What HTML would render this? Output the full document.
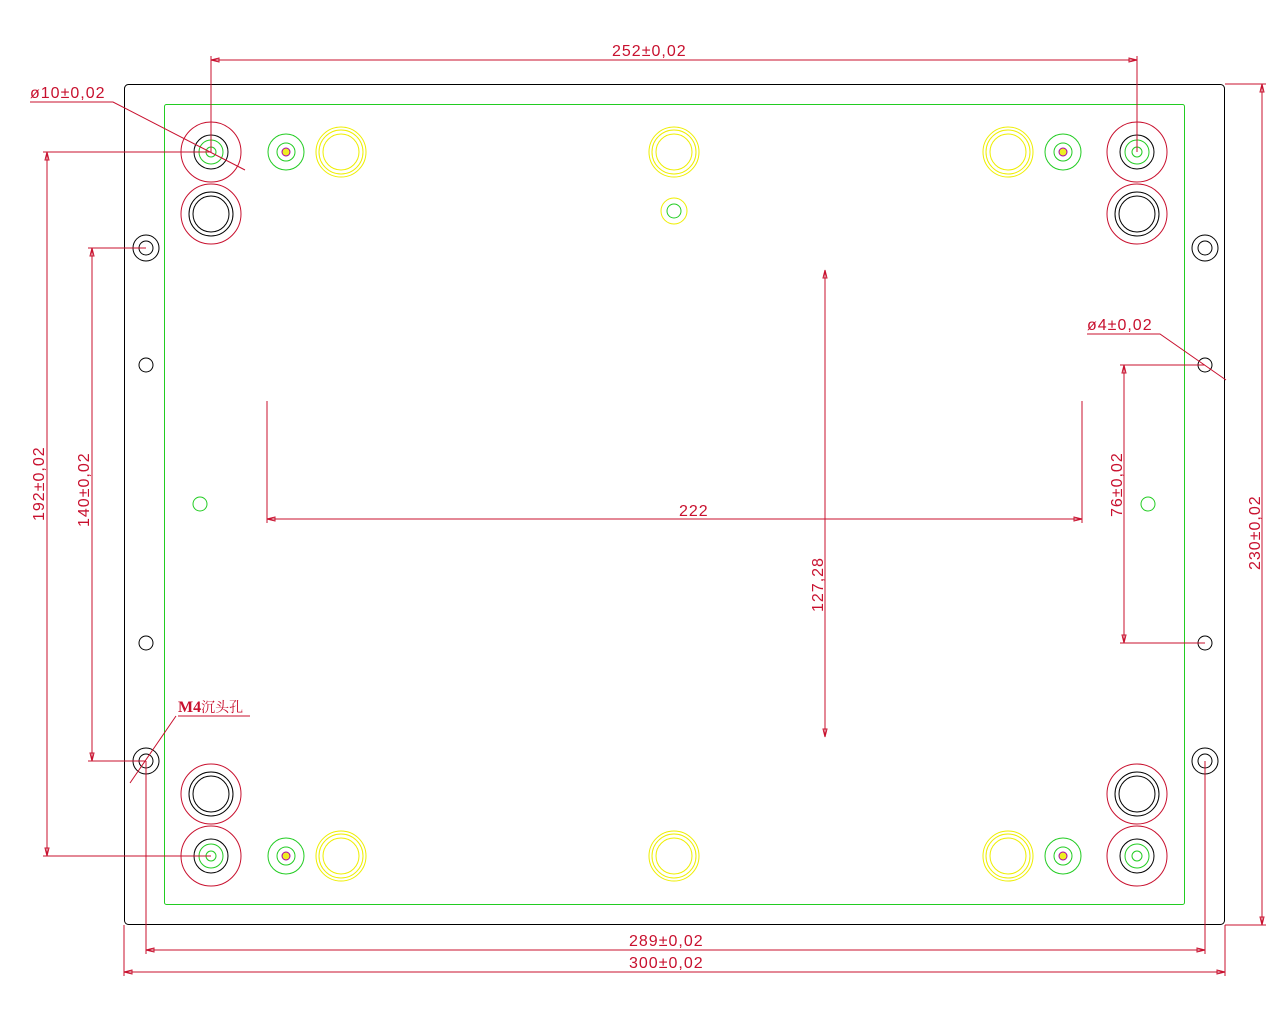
<!DOCTYPE html>
<html><head><meta charset="utf-8"><style>
html,body{margin:0;padding:0;background:#fff;}
svg{display:block;}
text{font-family:"Liberation Sans","Noto Sans CJK SC",sans-serif;font-size:16px;letter-spacing:1px;fill:#c8102e;}
</style></head><body>
<svg width="1280" height="1024" viewBox="0 0 1280 1024" xmlns="http://www.w3.org/2000/svg">
<defs>
<g id="mh"><circle r="30" fill="none" stroke="#c8102e"/><circle r="17" fill="none" stroke="#000"/><circle r="12" fill="none" stroke="#2c2"/><circle r="5" fill="none" stroke="#2c2"/></g>
<g id="bh"><circle r="30" fill="none" stroke="#c8102e"/><circle r="22" fill="none" stroke="#000"/><circle r="18" fill="none" stroke="#000"/></g>
<g id="gh"><circle r="18" fill="none" stroke="#2c2"/><circle r="9" fill="none" stroke="#2c2"/><circle r="4" fill="#ee2" stroke="#a0a"/></g>
<g id="yh"><circle r="25" fill="none" stroke="#ee0"/><circle r="22" fill="none" stroke="#ee0"/><circle r="18" fill="none" stroke="#ee0"/></g>
<g id="lh"><circle r="13" fill="none" stroke="#000"/><circle r="7" fill="none" stroke="#000"/></g>
<g id="sh"><circle r="7" fill="none" stroke="#000"/></g>
</defs>
<rect x="124.5" y="84.5" width="1100" height="840" rx="4" fill="none" stroke="#000"/>
<rect x="164.5" y="104.5" width="1020" height="800" rx="2" fill="none" stroke="#2c2"/>

<use href="#mh" x="211" y="152"/><use href="#mh" x="1137" y="152"/>
<use href="#mh" x="211" y="856"/><use href="#mh" x="1137" y="856"/>
<use href="#bh" x="211" y="214"/><use href="#bh" x="1137" y="214"/>
<use href="#bh" x="211" y="794"/><use href="#bh" x="1137" y="794"/>
<use href="#gh" x="286" y="152"/><use href="#gh" x="1063" y="152"/>
<use href="#gh" x="286" y="856"/><use href="#gh" x="1063" y="856"/>
<use href="#yh" x="341" y="152"/><use href="#yh" x="674" y="152"/><use href="#yh" x="1008" y="152"/>
<use href="#yh" x="341" y="856"/><use href="#yh" x="674" y="856"/><use href="#yh" x="1008" y="856"/>
<circle cx="674" cy="211" r="13" fill="none" stroke="#ee0"/><circle cx="674" cy="211" r="7" fill="none" stroke="#2c2"/>
<use href="#lh" x="146" y="248"/><use href="#lh" x="146" y="761"/><use href="#lh" x="1205" y="248"/><use href="#lh" x="1205" y="761"/>
<use href="#sh" x="146" y="365"/><use href="#sh" x="146" y="643"/><use href="#sh" x="1205" y="365"/><use href="#sh" x="1205" y="643"/>
<circle cx="200" cy="504" r="7" fill="none" stroke="#2c2"/><circle cx="1148" cy="504" r="7" fill="none" stroke="#2c2"/>

<g stroke="#c8102e" fill="none" stroke-width="1">
<path d="M211 56V152M1137 56V152M211 60H1137M211 60l8-2v4zM1137 60l-8-2v4z"/>
<path d="M30 102H113L245 170"/>
<path d="M43 152H211M43 856H211M47 152V856M47 152l-2 8h4zM47 856l-2-8h4z"/>
<path d="M88 248H146M88 761H146M92 248V761M92 248l-2 8h4zM92 761l-2-8h4z"/>
<path d="M267 401V523M1082 401V523M267 519H1082M267 519l8-2v4zM1082 519l-8-2v4z"/>
<path d="M825 270V737M825 270l-2 8h4zM825 737l-2-8h4z"/>
<path d="M1120 365H1205M1120 643H1205M1124 365V643M1124 365l-2 8h4zM1124 643l-2-8h4z"/>
<path d="M1087 334H1160L1226 380"/>
<path d="M1225 84H1266M1225 925H1266M1262 84V925M1262 84l-2 8h4zM1262 925l-2-8h4z"/>
<path d="M146 761V954M1205 761V954M146 950H1205M146 950l8-2v4zM1205 950l-8-2v4z"/>
<path d="M124 925V976M1225 925V976M124 972H1225M124 972l8-2v4zM1225 972l-8-2v4z"/>
<path d="M178 716H250M176 716L130 783"/>
</g>

<text x="612" y="56">252±0,02</text>
<text x="30" y="98">ø10±0,02</text>
<text x="1087" y="330">ø4±0,02</text>
<text x="679" y="516">222</text>
<text x="629" y="946">289±0,02</text>
<text x="629" y="968">300±0,02</text>
<text x="178" y="712" style="font-family:'Liberation Serif','Noto Serif CJK SC',serif;font-weight:bold;letter-spacing:0">M4<tspan style="font-weight:normal;font-size:14px">沉头孔</tspan></text>
<text transform="translate(44,521) rotate(-90)">192±0,02</text>
<text transform="translate(89,527) rotate(-90)">140±0,02</text>
<text transform="translate(823,612) rotate(-90)">127,28</text>
<text transform="translate(1122,517) rotate(-90)">76±0,02</text>
<text transform="translate(1260,570) rotate(-90)">230±0,02</text>
</svg>
</body></html>
